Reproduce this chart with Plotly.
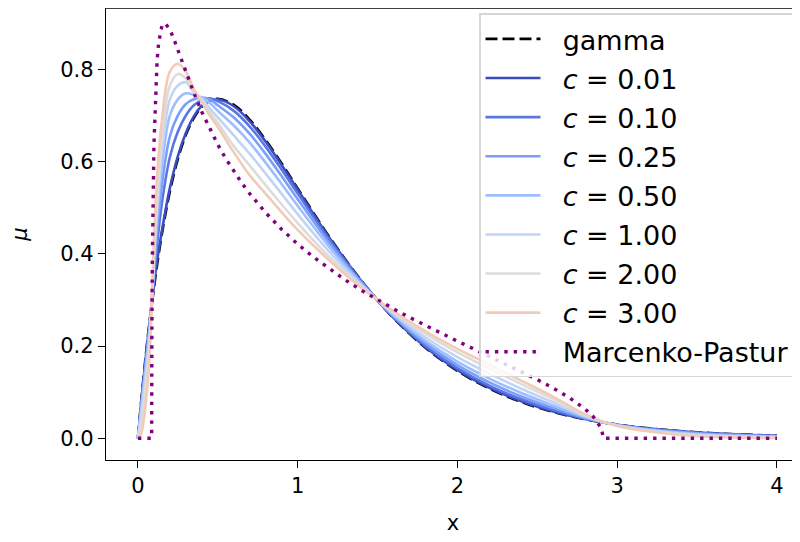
import plotly.graph_objects as go

# shared x grid for gamma and c-curves
x_grid = [0, 0.02, 0.05, 0.07, 0.09, 0.1, 0.12, 0.15, 0.2, 0.25, 0.3, 0.35, 0.4, 0.45, 0.5,
          0.6, 0.7, 0.8, 0.9, 1.0, 1.2, 1.4, 1.6, 1.8, 2.0, 2.2, 2.4, 2.6, 2.8, 3.0, 3.2, 3.5, 4.0]

gamma_y = [0, 0.0769, 0.1810, 0.2434, 0.3007, 0.3275, 0.3776, 0.4445, 0.5363, 0.6065, 0.6586,
           0.6952, 0.7190, 0.7319, 0.7358, 0.7229, 0.6904, 0.6460, 0.5950, 0.5413, 0.4354,
           0.3406, 0.2609, 0.1967, 0.1465, 0.1080, 0.0790, 0.0574, 0.0414, 0.0297, 0.0213,
           0.0128, 0.0054]

c_labels = ["0.01", "0.10", "0.25", "0.50", "1.00", "2.00", "3.00"]
c_colors = ["#3b4cc0", "#5977e3", "#7b9ff9", "#9ebeff", "#c0d4f5", "#dddcdc", "#f2cbb7"]

c001 = [0, 0.075, 0.178, 0.240, 0.300, 0.333, 0.385, 0.450, 0.543, 0.612, 0.662, 0.698, 0.721,
        0.7315, 0.735, 0.7200, 0.6872, 0.6429, 0.5922, 0.5389, 0.4340, 0.3402, 0.2613, 0.1977,
        0.1478, 0.1094, 0.0802, 0.0583, 0.0417, 0.0296, 0.0211, 0.0126, 0.0053]
c010 = [0, 0.072, 0.172, 0.235, 0.310, 0.350, 0.420, 0.510, 0.610, 0.665, 0.700, 0.722, 0.733,
        0.737, 0.731, 0.7099, 0.6760, 0.6319, 0.5822, 0.5305, 0.4292, 0.3388, 0.2627, 0.2010,
        0.1523, 0.1143, 0.0846, 0.0614, 0.0427, 0.0293, 0.0205, 0.0118, 0.0048]
c025 = [0, 0.068, 0.165, 0.230, 0.315, 0.365, 0.450, 0.550, 0.655, 0.700, 0.725, 0.735, 0.739,
        0.735, 0.722, 0.6955, 0.6600, 0.6162, 0.5680, 0.5185, 0.4223, 0.3368, 0.2646, 0.2058,
        0.1587, 0.1213, 0.0908, 0.0658, 0.0441, 0.0289, 0.0196, 0.0107, 0.0042]
c050 = [0, 0.062, 0.155, 0.225, 0.320, 0.380, 0.480, 0.590, 0.700, 0.735, 0.748, 0.745, 0.739,
        0.727, 0.710, 0.6782, 0.6408, 0.5973, 0.5510, 0.5040, 0.4141, 0.3344, 0.2670, 0.2115,
        0.1663, 0.1296, 0.0983, 0.0711, 0.0458, 0.0284, 0.0186, 0.0093, 0.0035]
c100 = [0, 0.052, 0.140, 0.210, 0.320, 0.390, 0.500, 0.620, 0.735, 0.765, 0.772, 0.750, 0.736,
        0.715, 0.696, 0.6566, 0.6168, 0.5737, 0.5296, 0.4860, 0.4038, 0.3314, 0.2700, 0.2186,
        0.1759, 0.1401, 0.1076, 0.0777, 0.0480, 0.0278, 0.0173, 0.0076, 0.0025]
c200 = [0, 0.035, 0.120, 0.190, 0.310, 0.400, 0.520, 0.650, 0.765, 0.790, 0.780, 0.752, 0.732,
        0.707, 0.684, 0.6335, 0.5911, 0.5486, 0.5069, 0.4668, 0.3927, 0.3283, 0.2731, 0.2263,
        0.1862, 0.1513, 0.1175, 0.0847, 0.0503, 0.0271, 0.0159, 0.0058, 0.0015]
c300 = [0, 0.010, 0.080, 0.160, 0.330, 0.430, 0.570, 0.690, 0.795, 0.812, 0.795, 0.757, 0.729,
        0.700, 0.675, 0.620, 0.570, 0.530, 0.490, 0.452, 0.385, 0.326, 0.2755, 0.232, 0.194,
        0.1597, 0.125, 0.090, 0.052, 0.0267, 0.0148, 0.0045, 0.0008]
c_series = [c001, c010, c025, c050, c100, c200, c300]

# Marcenko-Pastur curve
mp_x = [0, 0.0858, 0.087, 0.09, 0.1, 0.11, 0.12, 0.13, 0.15, 0.17, 0.2, 0.22, 0.25, 0.3, 0.35,
        0.4, 0.45, 0.5, 0.55, 0.6, 0.65, 0.7, 0.75, 0.8, 0.9, 1.0, 1.1, 1.2, 1.3, 1.4, 1.5,
        1.6, 1.7, 1.8, 1.9, 2.0, 2.1, 2.2, 2.3, 2.4, 2.5, 2.6, 2.7, 2.8, 2.85, 2.9, 2.914, 4.0]
mp_y = [0, 0, 0.2131, 0.3852, 0.6363, 0.7538, 0.8200, 0.8589, 0.8939, 0.9000, 0.8861, 0.8700,
        0.8421, 0.7940, 0.7486, 0.7073, 0.6701, 0.6366, 0.6063, 0.5787, 0.5535, 0.5303, 0.5088,
        0.4889, 0.4529, 0.4211, 0.3925, 0.3666, 0.3428, 0.3207, 0.3001, 0.2806, 0.2621, 0.2444,
        0.2272, 0.2105, 0.1941, 0.1778, 0.1614, 0.1447, 0.1273, 0.1088, 0.0882, 0.0633, 0.0470,
        0.0219, 0, 0]

x_ticks = [0, 1, 2, 3, 4]
y_ticks = [0.0, 0.2, 0.4, 0.6, 0.8]
y_tick_text = ["0.0", "0.2", "0.4", "0.6", "0.8"]

GAP = "\u00a0\u00a0"

fig = go.Figure()
fig.add_trace(go.Scatter(x=x_grid, y=gamma_y, mode="lines", name=GAP + "gamma",
                         line=dict(color="black", width=2.8, dash="12px,5px", shape="spline"),
                         legendgroup="g", legendrank=1))
for i, (lab, col, ys) in enumerate(zip(c_labels, c_colors, c_series)):
    fig.add_trace(go.Scatter(x=x_grid, y=ys, mode="lines", name=GAP + "<i>c</i> = " + lab,
                             line=dict(color=col, width=2.6, shape="spline"),
                             legendgroup="c" + str(i), legendrank=2 + i))
fig.add_trace(go.Scatter(x=mp_x, y=mp_y, mode="lines", name=GAP + "Marcenko-Pastur",
                         line=dict(color="#800080", width=3.4, dash="3.4px,6px"),
                         legendgroup="mp", legendrank=20))

font_family = "DejaVu Sans"
W, H = 792, 534
L, R, T, B = 98, 0, 0, 82
fig.update_layout(
    width=W, height=H,
    margin=dict(l=L, r=R, t=T, b=B),
    plot_bgcolor="white", paper_bgcolor="white",
    font=dict(family=font_family, size=21, color="black"),
    showlegend=True,
    legend=dict(x=(471 - L) / (W - L - R), xanchor="left", y=0.988, yanchor="top",
                bgcolor="rgba(255,255,255,0.8)", bordercolor="#d6d6d6", borderwidth=1.5,
                font=dict(family=font_family, size=27, color="black"),
                tracegroupgap=1, itemwidth=55),
    xaxis=dict(range=[-0.2, 4.144], tickvals=x_ticks, ticktext=[str(t) for t in x_ticks],
               showline=True, linecolor="black", linewidth=1.4, mirror=False,
               ticks="outside", ticklen=7, tickwidth=1.4, tickcolor="black",
               showgrid=False, zeroline=False, automargin=False,
               title=dict(text="x", font=dict(size=21), standoff=17),
               tickfont=dict(size=21)),
    yaxis=dict(range=[-0.047, 0.933], tickvals=y_ticks, ticktext=y_tick_text,
               showline=True, linecolor="black", linewidth=1.4, mirror=False,
               ticks="outside", ticklen=7, tickwidth=1.4, tickcolor="black",
               showgrid=False, zeroline=False, automargin=False,
               title=dict(text="<i>μ</i>", font=dict(size=21), standoff=38),
               tickfont=dict(size=21)),
    shapes=[dict(type="line", xref="paper", yref="paper", x0=0, x1=1, y0=1, y1=1,
                 line=dict(color="black", width=1.6))],
)

fig.write_html("out.html")
